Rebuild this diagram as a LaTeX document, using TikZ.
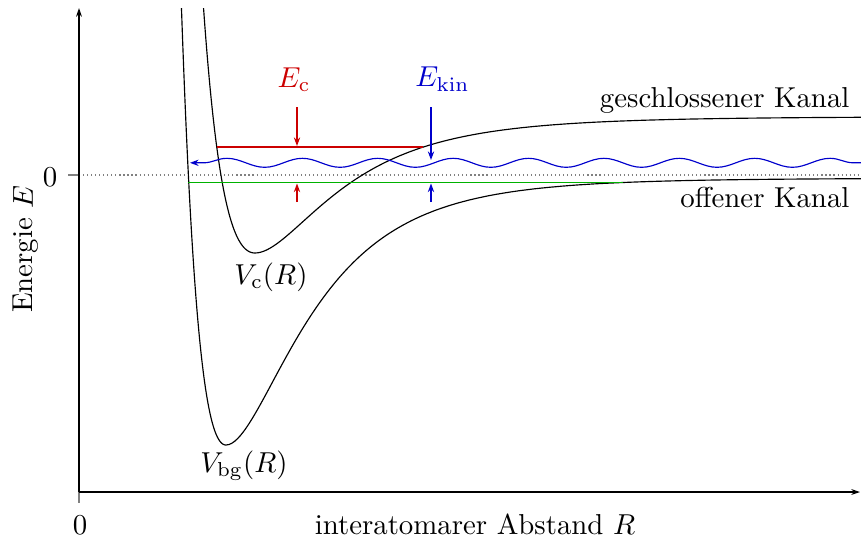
\documentclass[tikz,border=0pt]{standalone}
\usetikzlibrary{arrows.meta,decorations.pathmorphing}
\begin{document}
\begin{tikzpicture}[x=0.347pt,y=-0.347pt,
  declare function={
    mleft(\u)=1-(1-exp(\u))*(1-exp(\u));
    mright(\u)=1-(1-exp(-\u))*(1-exp(-\u));
  },
  lbl/.style={inner sep=0pt, anchor=base},
  curve/.style={black, line width=0.4pt},
  axisline/.style={black, line width=0.4pt, -{Stealth[length=3pt,width=2pt]}},
  tickline/.style={gray, line width=0.4pt},
  arr/.style={line width=0.4pt, -{Stealth[length=3pt,width=2.2pt]}},
  redc/.style={color=red!80!black},
  bluec/.style={color=blue!80!black},
  greenc/.style={color=green!70!black},
]
\useasboundingbox (0,0) rectangle (861,543);

% axes
\coordinate (O) at (79,492);
\coordinate (ytop) at (79,8);
\coordinate (xend) at (860,492);
\coordinate (xt) at (79,503);
\coordinate (yt) at (68,175);
\coordinate (y0) at (79,175);
\coordinate (dr) at (861,175);
\draw[gray, line width=0.4pt, densely dotted] (y0) -- (dr);
\draw[tickline] (O) -- (xt);
\draw[tickline] (yt) -- (y0);
\draw[axisline] (O) -- (ytop);
\draw[axisline] (O) -- (xend);

\node[lbl] (xzero) at (80,534) {0};
\node[lbl] (yzero) at (50,186) {0};
\node[lbl] (xlab) at (475,534) {interatomarer Abstand $R$};
\node[lbl, rotate=90] (ylab) at (33,249) {Energie $E$};

% potential curves
\begin{scope}
\clip (79,8) rectangle (861,492);
\draw[curve] plot[domain=200:255, samples=60] (\x, {116+137*mleft(1.65*(255-\x)/100)})
  -- plot[domain=255:861, samples=200] (\x, {116+137*mright(1.40*(\x-255)/100 - 0.085*((\x-255)/100)^2)});
\draw[curve] plot[domain=178:226, samples=60] (\x, {178+267*mleft(1.85*(226-\x)/100)})
  -- plot[domain=226:861, samples=220] (\x, {178+267*mright(1.46*(\x-226)/100 - 0.065*((\x-226)/100)^2)});
\end{scope}

\node[lbl] (Vc) at (271,284) {$V_\mathrm{c}(R)$};
\node[lbl] (Vbg) at (244,472.5) {$V_\mathrm{bg}(R)$};
\node[lbl, anchor=base east] (gk) at (850,107.3) {geschlossener Kanal};
\node[lbl, anchor=base east] (ok) at (850,207.3) {offener Kanal};

% levels
\coordinate (rl) at (217,147);
\coordinate (rr) at (423,147);
\draw[redc, line width=0.4pt] (rl) -- (rr);
\coordinate (gl) at (188,182.5);
\coordinate (gr) at (623,182.5);
\draw[greenc, line width=0.4pt] (gl) -- (gr);

% scattering wave
\coordinate (wl) at (190,162.8);
\coordinate (wr) at (861,162.8);
\draw[bluec, line width=0.4pt, {Stealth[length=3pt,width=2.2pt]}-, decorate,
  decoration={snake, segment length=26.16pt, amplitude=1.56pt, pre length=4.65pt}] (wl) -- (wr);

% energy labels and arrows
\node[lbl, redc] (Ec) at (294,87) {$E_\mathrm{c}$};
\node[lbl, bluec] (Ekin) at (442.5,86.7) {$E_\mathrm{kin}$};
\coordinate (ra1) at (297,107);
\coordinate (ra2) at (297,146);
\coordinate (ra3) at (297,202);
\coordinate (ra4) at (297,183.5);
\draw[arr, redc] (ra1) -- (ra2);
\draw[arr, redc] (ra3) -- (ra4);
\coordinate (ba1) at (431,107);
\coordinate (ba2) at (431,160);
\coordinate (ba3) at (431,202);
\coordinate (ba4) at (431,183.5);
\draw[arr, bluec] (ba1) -- (ba2);
\draw[arr, bluec] (ba3) -- (ba4);
\end{tikzpicture}
\end{document}
